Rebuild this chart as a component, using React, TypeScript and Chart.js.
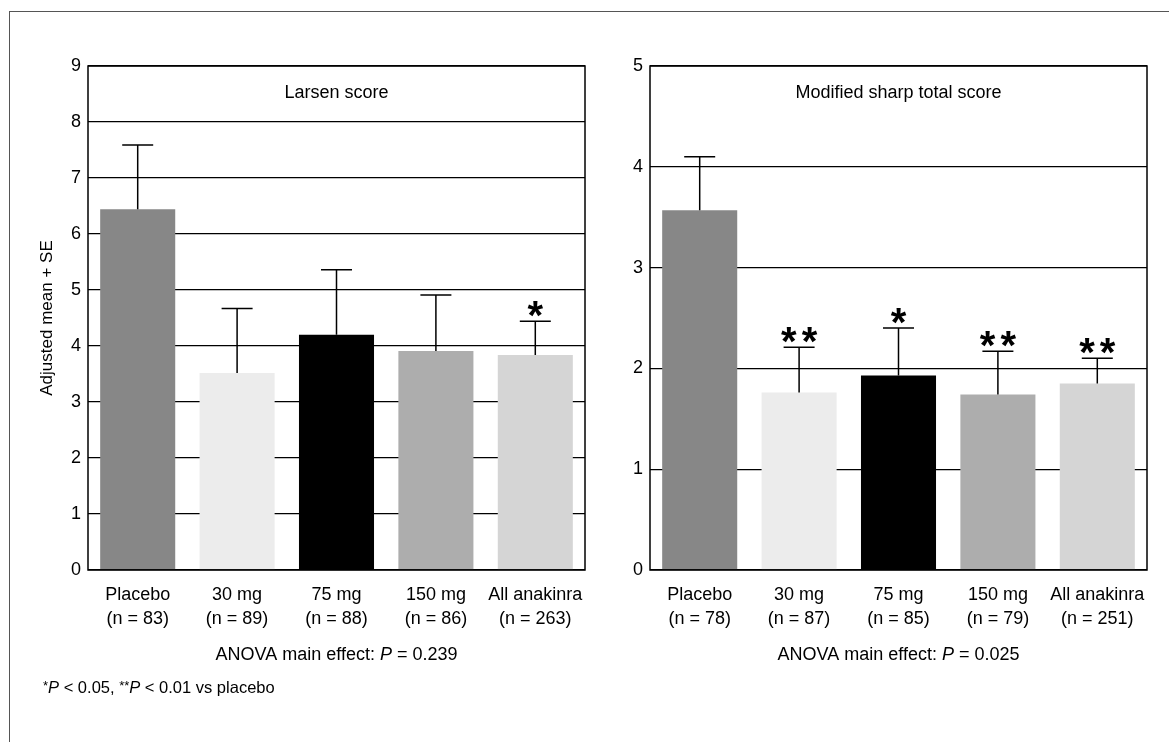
import React, { useEffect, useRef } from "react";
import { Chart, registerables } from "chart.js";

Chart.register(...registerables);

const FONT = '"Liberation Sans", Arial, Helvetica, sans-serif';

const groups = ["Placebo", "30 mg", "75 mg", "150 mg", "All anakinra"];
const larsenN = ["(n = 83)", "(n = 89)", "(n = 88)", "(n = 86)", "(n = 263)"];
const sharpN = ["(n = 78)", "(n = 87)", "(n = 85)", "(n = 79)", "(n = 251)"];

const larsenMean = [6.44, 3.52, 4.2, 3.91, 3.84];
const larsenUpper = [7.59, 4.67, 5.36, 4.91, 4.44];
const larsenStars = ["", "", "", "", "*"];

const sharpMean = [3.57, 1.76, 1.93, 1.74, 1.85];
const sharpUpper = [4.1, 2.21, 2.4, 2.17, 2.1];
const sharpStars = ["", "**", "*", "**", "**"];

const barColors = ["#878787", "#ececec", "#000000", "#adadad", "#d5d5d5"];

const larsenMax = 9;
const sharpMax = 5;

const larsenTitle = "Larsen score";
const sharpTitle = "Modified sharp total score";
const larsenP = "0.239";
const sharpP = "0.025";
const yTitle = "Adjusted mean + SE";

type PanelCfg = {
  n: string[];
  mean: number[];
  upper: number[];
  stars: string[];
  max: number;
  title: string;
  p: string;
  yTitle?: string;
  footnote?: boolean;
  yWidth: number;
  padRight: number;
};

function drawSegments(ctx: CanvasRenderingContext2D, segs: { t: string; f: string; dy?: number }[], x: number, y: number, center: boolean) {
  let total = 0;
  segs.forEach((s) => {
    ctx.font = s.f;
    total += ctx.measureText(s.t).width;
  });
  let cx = center ? x - total / 2 : x;
  ctx.textAlign = "left";
  ctx.textBaseline = "alphabetic";
  segs.forEach((s) => {
    ctx.font = s.f;
    ctx.fillText(s.t, cx, y + (s.dy || 0));
    cx += ctx.measureText(s.t).width;
  });
}

function makePlugin(cfg: PanelCfg) {
  return {
    id: "panelDecor",
    afterDatasetsDraw(chart: any) {
      const { ctx, chartArea: a, scales } = chart;
      const y = scales.y;
      const meta = chart.getDatasetMeta(0);
      ctx.save();
      ctx.strokeStyle = "#000";
      ctx.lineWidth = 1.5;
      ctx.strokeRect(a.left, a.top, a.right - a.left, a.bottom - a.top);

      // error bars + stars
      ctx.fillStyle = "#000";
      cfg.mean.forEach((m, i) => {
        const cx = meta.data[i].x;
        const y0 = y.getPixelForValue(m);
        const y1 = y.getPixelForValue(cfg.upper[i]);
        ctx.beginPath();
        ctx.lineWidth = 1.5;
        ctx.moveTo(cx, y0);
        ctx.lineTo(cx, y1);
        ctx.moveTo(cx - 15.5, y1);
        ctx.lineTo(cx + 15.5, y1);
        ctx.stroke();
        const s = cfg.stars[i];
        if (s) {
          ctx.font = `bold 40px ${FONT}`;
          ctx.textAlign = "center";
          ctx.textBaseline = "alphabetic";
          const mt = ctx.measureText("*");
          const base = y1 - 4 - mt.actualBoundingBoxDescent;
          const k = s.length;
          for (let j = 0; j < k; j++) {
            const sx = cx + (j - (k - 1) / 2) * 20.7;
            ctx.fillText("*", sx, base);
          }
        }
      });

      // panel title
      const mid = (a.left + a.right) / 2;
      ctx.font = `18px ${FONT}`;
      ctx.textAlign = "center";
      ctx.textBaseline = "alphabetic";
      ctx.fillText(cfg.title, mid, 98);

      // ANOVA text
      drawSegments(
        ctx,
        [
          { t: "ANOVA main effect: ", f: `18px ${FONT}` },
          { t: "P", f: `italic 18px ${FONT}` },
          { t: " = " + cfg.p, f: `18px ${FONT}` },
        ],
        mid,
        660,
        true
      );

      if (cfg.yTitle) {
        ctx.save();
        ctx.translate(47, (a.top + a.bottom) / 2);
        ctx.rotate(-Math.PI / 2);
        ctx.font = `17px ${FONT}`;
        ctx.textAlign = "center";
        ctx.textBaseline = "middle";
        ctx.fillText(cfg.yTitle, 0, 0);
        ctx.restore();
      }

      if (cfg.footnote) {
        drawSegments(
          ctx,
          [
            { t: "*", f: `13px ${FONT}`, dy: -3 },
            { t: "P", f: `italic 16.5px ${FONT}` },
            { t: " < 0.05, ", f: `16.5px ${FONT}` },
            { t: "**", f: `13px ${FONT}`, dy: -3 },
            { t: "P", f: `italic 16.5px ${FONT}` },
            { t: " < 0.01 vs placebo", f: `16.5px ${FONT}` },
          ],
          43,
          693,
          false
        );
      }
      ctx.restore();
    },
  };
}

function Panel({ cfg, left, width }: { cfg: PanelCfg; left: number; width: number }) {
  const ref = useRef<HTMLCanvasElement | null>(null);
  useEffect(() => {
    if (!ref.current) return;
    const chart = new Chart(ref.current, {
      type: "bar",
      data: {
        labels: groups.map((g, i) => [g, cfg.n[i]]),
        datasets: [
          {
            data: cfg.mean,
            backgroundColor: barColors,
            borderWidth: 0,
            barPercentage: 0.755,
            categoryPercentage: 1,
          },
        ],
      },
      options: {
        responsive: false,
        animation: false,
        events: [],
        layout: { padding: { top: 66, left: 0, right: cfg.padRight, bottom: 0 } },
        plugins: { legend: { display: false }, tooltip: { enabled: false }, title: { display: false } },
        scales: {
          x: {
            grid: { display: false, drawTicks: false },
            border: { display: false },
            ticks: {
              color: "#000",
              font: { family: FONT, size: 18, lineHeight: 24 / 18 },
              padding: 13,
              maxRotation: 0,
              autoSkip: false,
            },
            afterFit: (s: any) => {
              s.height = 172;
            },
          },
          y: {
            min: 0,
            max: cfg.max,
            grid: { display: true, color: "#000", lineWidth: 1.3, drawTicks: false },
            border: { display: false },
            ticks: {
              stepSize: 1,
              color: "#000",
              font: { family: FONT, size: 18 },
              padding: 7,
            },
            afterFit: (s: any) => {
              s.width = cfg.yWidth;
            },
          },
        },
      },
      plugins: [makePlugin(cfg)],
    } as any);
    return () => chart.destroy();
  }, []);
  return (
    <canvas
      ref={ref}
      width={width}
      height={742}
      style={{ position: "absolute", left, top: 0, width, height: 742 }}
    />
  );
}

export default function App() {
  const leftCfg: PanelCfg = {
    n: larsenN,
    mean: larsenMean,
    upper: larsenUpper,
    stars: larsenStars,
    max: larsenMax,
    title: larsenTitle,
    p: larsenP,
    yTitle: yTitle,
    footnote: true,
    yWidth: 88,
    padRight: 620 - 585,
  };
  const rightCfg: PanelCfg = {
    n: sharpN,
    mean: sharpMean,
    upper: sharpUpper,
    stars: sharpStars,
    max: sharpMax,
    title: sharpTitle,
    p: sharpP,
    yWidth: 90,
    padRight: 609 - 587,
  };
  return (
    <div
      style={{
        position: "fixed",
        left: 0,
        top: 0,
        width: 1169,
        height: 742,
        overflow: "hidden",
        background: "#fff",
      }}
    >
      <div
        style={{
          position: "absolute",
          left: 9,
          top: 11,
          width: 1400,
          height: 1000,
          borderTop: "1px solid #555",
          borderLeft: "1px solid #555",
        }}
      />
      <Panel cfg={leftCfg} left={0} width={620} />
      <Panel cfg={rightCfg} left={560} width={609} />
    </div>
  );
}
